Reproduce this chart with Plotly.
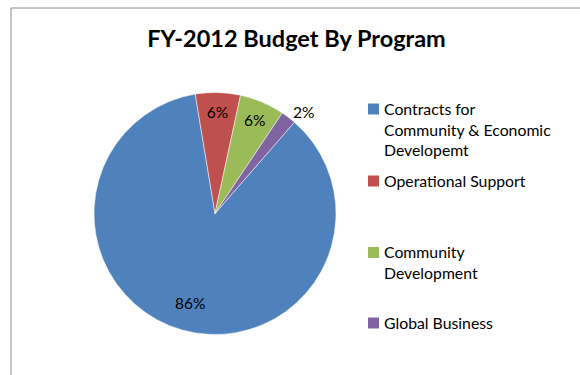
import math
import plotly.graph_objects as go

# Budget shares by program, FY-2012
programs = [
    "Contracts for<br>Community & Economic<br>Developemt",
    "Operational Support",
    "Community<br>Development",
    "Global Business",
]
shares = [86, 6, 6, 2]
colors = ["#4F81BD", "#C0504D", "#9BBB59", "#8064A2"]

W, H = 580, 375
cx, cy, r = 215, 213.5, 121      # pie centre and radius, px
rotation = 41                     # start angle of the first slice, degrees clockwise from 12 o'clock

# key layout: marker left edge, text left edge, centre of each entry's first line (px)
key_marker_x, key_text_x = 368, 382
key_rows = [109, 181, 252.5, 323]
font_family = "Lato"


def px_x(x):
    return x / W


def px_y(y):
    return 1 - y / H


# percentage labels; the large slice gets its label placed further out
total = sum(shares)
pct = [f"{v / total:.0%}" for v in shares]
texttemplates = ["", "%{percent:.0%}", "%{percent:.0%}", "%{percent:.0%}"]
textpositions = ["inside", "inside", "inside", "outside"]

fig = go.Figure(
    go.Pie(
        labels=[p.replace("<br>", " ") for p in programs],
        values=shares,
        sort=False,
        direction="clockwise",
        rotation=rotation,
        marker=dict(colors=colors, line=dict(color="white", width=0.5)),
        texttemplate=texttemplates,
        textposition=textpositions,
        insidetextorientation="horizontal",
        textfont=dict(family=font_family, size=15.5, color="black"),
        domain=dict(x=[px_x(cx - r), px_x(cx + r)], y=[px_y(cy + r), px_y(cy - r)]),
        hoverinfo="label+percent",
        showlegend=False,
    )
)

annotations = []

# label of the largest slice at 77% of the radius on its bisector
mid_deg = rotation + 360 * (shares[0] / total) / 2
lx = cx + 0.77 * r * math.sin(math.radians(mid_deg))
ly = cy - 0.77 * r * math.cos(math.radians(mid_deg))
annotations.append(dict(
    x=px_x(lx), y=px_y(ly), xref="paper", yref="paper", text=pct[0], showarrow=False,
    xanchor="center", yanchor="middle", font=dict(family=font_family, size=15.5, color="black"),
))

# key entries
shapes = []
for name, col, row in zip(programs, colors, key_rows):
    shapes.append(dict(
        type="rect", xref="paper", yref="paper",
        x0=px_x(key_marker_x), x1=px_x(key_marker_x + 11),
        y0=px_y(row + 5.5), y1=px_y(row - 5.5),
        fillcolor=col, line=dict(width=0),
    ))
    annotations.append(dict(
        x=px_x(key_text_x), y=px_y(row - 12.5), xref="paper", yref="paper",
        text=name, showarrow=False, align="left",
        xanchor="left", yanchor="top",
        font=dict(family=font_family, size=15.8, color="black"),
    ))

# chart frame (top and left edges)
shapes += [
    dict(type="line", xref="paper", yref="paper", x0=px_x(11), x1=1, y0=px_y(8), y1=px_y(8),
         line=dict(color="#8C8C8C", width=1)),
    dict(type="line", xref="paper", yref="paper", x0=px_x(11), x1=px_x(11), y0=0, y1=px_y(8),
         line=dict(color="#8C8C8C", width=1)),
]

fig.update_layout(
    width=W,
    height=H,
    margin=dict(l=0, r=0, t=0, b=0),
    paper_bgcolor="white",
    plot_bgcolor="white",
    title=dict(
        text="<b>FY-2012 Budget By Program</b>",
        x=px_x(296.5),
        xanchor="center",
        y=px_y(39),
        yanchor="middle",
        font=dict(family=font_family, size=23.5, color="black"),
    ),
    annotations=annotations,
    shapes=shapes,
)

fig.write_html("out.html")
